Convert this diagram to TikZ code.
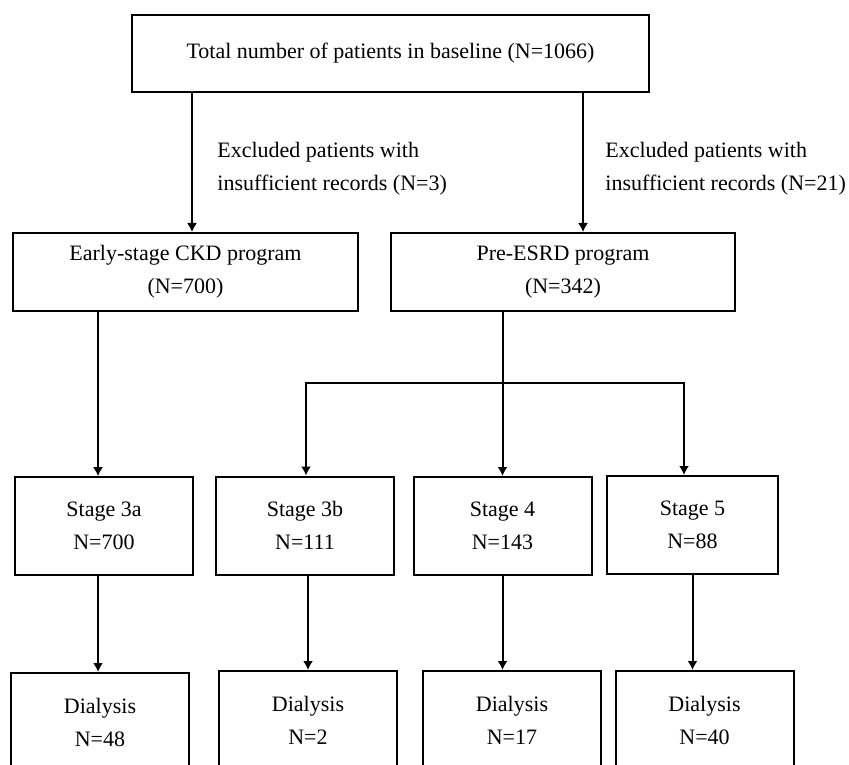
\documentclass[tikz,border=0pt]{standalone}
\usepackage{fontspec}
\setmainfont{Liberation Serif}
\usetikzlibrary{arrows.meta}
\begin{document}
\begin{tikzpicture}[x=0.5pt, y=-0.5pt,
        font=\fontsize{11}{16.5}\selectfont,
        box/.style={draw, line width=1pt, align=center, inner sep=0pt},
        stagebox/.style={box, minimum width=89pt, minimum height=49pt},
        arr/.style={->, >={Latex[length=4.5pt,width=5pt]}, line width=1pt}]
        \useasboundingbox (0,0) rectangle (849,764);
        % program level
        \node[box, minimum width=258.5pt, minimum height=38.5pt] (total) at (390.5,53.5)
        {Total number of patients in baseline (N=1066)};
        \node[box, minimum width=172.5pt, minimum height=39pt] (early) at (185.5,272)
        {Early-stage CKD program\\(N=700)};
        \node[box, minimum width=172pt, minimum height=39pt] (pre) at (563,272)
        {Pre-ESRD program\\(N=342)};
        \node[right, align=left, inner sep=0pt] (ex1) at (217,169)
        {Excluded patients with\\insufficient records (N=3)};
        \node[right, align=left, inner sep=0pt] (ex2) at (605,169)
        {Excluded patients with\\insufficient records (N=21)};
        % stages
        \node[stagebox] (s3a) at (104,526) {Stage 3a\\N=700};
        \node[stagebox] (s3b) at (305,525.5) {Stage 3b\\N=111};
        \node[stagebox] (s4) at (502.5,526) {Stage 4\\N=143};
        \node[stagebox, minimum width=85.5pt] (s5) at (692.5,525) {Stage 5\\N=88};
        % dialysis
        \node[stagebox] (d3a) at (100,722) {Dialysis\\N=48};
        \node[stagebox] (d3b) at (308,720) {Dialysis\\N=2};
        \node[stagebox] (d4) at (512,720) {Dialysis\\N=17};
        \node[stagebox] (d5) at (704.5,720) {Dialysis\\N=40};
        \coordinate (c1) at (192,0);
        \coordinate (c2) at (583,0);
        \coordinate (c3) at (98,0);
        \coordinate (bl) at (306,383);
        \coordinate (br) at (684,383);
        \draw[arr, line width=0.8pt] (total.south -| c1) -- (early.north -| c1);
        \draw[arr, line width=0.8pt] (total.south -| c2) -- (pre.north -| c2);
        \draw[arr, line width=0.6pt] (early.south -| c3) -- (s3a.north -| c3);
        \draw[arr] (pre.south -| s4.north) -- (s4.north);
        \draw[arr] (br) -- (bl) -- (s3b.north -| bl);
        \draw[arr, line cap=rect] (br) -- (s5.north -| br);
        \draw[arr] (s3a.south -| c3) -- (d3a.north -| c3);
        \draw[arr] (d3b.north |- s3b.south) -- (d3b.north);
        \draw[arr] (s4.south) -- (d4.north -| s4.south);
        \draw[arr] (s5.south) -- (d5.north -| s5.south);
\end{tikzpicture}
\end{document}
